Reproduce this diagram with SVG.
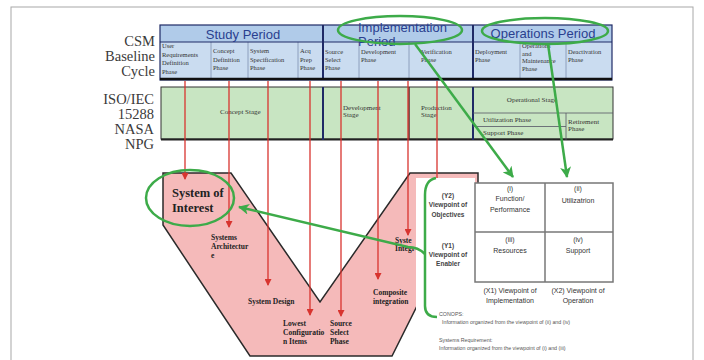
<svg xmlns="http://www.w3.org/2000/svg" width="704" height="360" viewBox="0 0 704 360">
<defs>
<marker id="ar" markerUnits="userSpaceOnUse" markerWidth="7" markerHeight="7" refX="6" refY="3.5" orient="auto"><path d="M0,0 L7,3.5 L0,7 z" fill="#d8342f"/></marker>
<marker id="ag" markerUnits="userSpaceOnUse" markerWidth="11" markerHeight="11" refX="10" refY="5.5" orient="auto"><path d="M0,0 L11,5.5 L0,11 L3,5.5 z" fill="#3dab49"/></marker>
</defs>
<style>
.serif{font-family:"Liberation Serif","Times New Roman",serif}
.sans{font-family:"Liberation Sans",Arial,sans-serif}
.lbl{font-size:14.5px;fill:#3a3a3a;text-anchor:end}
.ph{font-size:6.5px;fill:#333}
.hdr{font-size:13px;fill:#2a3f8f}
.bt{font-size:7px;fill:#333}
.vt{font-size:7.5px;font-weight:bold;fill:#222}
.vp{font-size:6.5px;font-weight:bold;fill:#444;text-anchor:middle}
.mx{font-size:7px;fill:#333;text-anchor:middle}
.note{font-size:5.3px;fill:#555}
.red{stroke:#d8342f;stroke-width:1.3;fill:none}
.grn{stroke:#3dab49;stroke-width:2.5;fill:none}
.thin{stroke:#7f8fb0;stroke-width:0.8}
.navy{stroke:#1f2a66;stroke-width:2}
</style>
<rect x="11" y="7" width="682" height="370" fill="#fff" stroke="#a8a8a8" stroke-width="1"/>

<g id="left-labels" class="serif lbl">
<text x="155" y="46">CSM</text>
<text x="155" y="61">Baseline</text>
<text x="155" y="76">Cycle</text>
<text x="154" y="104">ISO/IEC</text>
<text x="154" y="119">15288</text>
<text x="154" y="134">NASA</text>
<text x="154" y="149">NPG</text>
</g>

<g id="csm-table">
<rect x="160" y="25" width="452" height="17" fill="#b0cbe9"/>
<rect x="160" y="42" width="452" height="38" fill="#cadcf0"/>
<g class="thin">
<line x1="211" y1="42" x2="211" y2="80"/>
<line x1="248" y1="42" x2="248" y2="80"/>
<line x1="298" y1="42" x2="298" y2="80"/>
<line x1="359" y1="42" x2="359" y2="80"/>
<line x1="409" y1="42" x2="409" y2="80"/>
<line x1="520" y1="42" x2="520" y2="80"/>
<line x1="566" y1="42" x2="566" y2="80"/>
</g>
<rect x="160" y="25" width="452" height="55" fill="none" stroke="#1f2a66" stroke-width="1.2"/>
<line x1="160" y1="42" x2="612" y2="42" stroke="#1f2a66" stroke-width="1.2"/>
<line x1="323" y1="25" x2="323" y2="80" class="navy"/>
<line x1="473" y1="25" x2="473" y2="80" class="navy"/>
<line x1="160" y1="79" x2="612" y2="79" stroke="#111" stroke-width="2.5"/>
<g class="sans hdr">
<text x="243" y="39" text-anchor="middle">Study Period</text>
<text x="358" y="32">Implementation</text>
<text x="358" y="46">Period</text>
<text x="543" y="37.5" text-anchor="middle">Operations Period</text>
</g>
<g class="serif ph">
<text x="162" y="48">User</text><text x="162" y="56.5">Requirements</text><text x="162" y="65">Definition</text><text x="162" y="73.5">Phase</text>
<text x="213" y="53">Concept</text><text x="213" y="61.5">Definition</text><text x="213" y="70">Phase</text>
<text x="250" y="53">System</text><text x="250" y="61.5">Specification</text><text x="250" y="70">Phase</text>
<text x="300" y="53">Acq</text><text x="300" y="61.5">Prep</text><text x="300" y="70">Phase</text>
<text x="325" y="54">Source</text><text x="325" y="62">Select</text><text x="325" y="70">Phase</text>
<text x="361" y="54">Development</text><text x="361" y="62">Phase</text>
<text x="421" y="54">Verification</text><text x="421" y="62">Phase</text>
<text x="475" y="54">Deployment</text><text x="475" y="62">Phase</text>
<text x="522" y="48">Operations</text><text x="522" y="55.5">and</text><text x="522" y="63">Maintenance</text><text x="522" y="70.5">Phase</text>
<text x="568" y="54">Deactivation</text><text x="568" y="62">Phase</text>
</g>
</g>

<g id="iso-band">
<rect x="161" y="87" width="452" height="52" fill="#c8e5c2" stroke="#333" stroke-width="1"/>
<line x1="161" y1="139.5" x2="613" y2="139.5" stroke="#222" stroke-width="2.2"/>
<line x1="323" y1="87" x2="323" y2="140" class="navy"/>
<line x1="409" y1="87" x2="409" y2="140" stroke="#5a2a2a" stroke-width="1.5"/>
<line x1="473" y1="87" x2="473" y2="140" class="navy"/>
<line x1="473" y1="113" x2="613" y2="113" stroke="#556" stroke-width="0.8"/>
<line x1="473" y1="126.5" x2="566" y2="126.5" stroke="#556" stroke-width="0.8"/>
<line x1="566" y1="113" x2="566" y2="140" stroke="#556" stroke-width="0.8"/>
<g class="serif bt">
<text x="220" y="114">Concept Stage</text>
<text x="343" y="110">Development</text><text x="343" y="117">Stage</text>
<text x="421" y="110">Production</text><text x="421" y="117">Stage</text>
<text x="532" y="102" text-anchor="middle">Operational Stage</text>
<text x="483" y="122">Utilization Phase</text>
<text x="483" y="135">Support Phase</text>
<text x="568" y="124">Retirement</text><text x="568" y="131">Phase</text>
</g>
</g>

<g id="v-model">
<polygon points="163,173 231,173 320,302 410,173 478,173 478,184 392,356 250,356 163,225" fill="#f5baba" stroke="#2a2a2a" stroke-width="1.5"/>
<g class="serif">
<text x="172" y="197" font-size="12.5" font-weight="bold" fill="#222">System of</text>
<text x="172" y="212" font-size="12.5" font-weight="bold" fill="#222">Interest</text>
</g>
<g class="serif vt">
<text x="211" y="240">Systems</text><text x="211" y="249">Architectur</text><text x="211" y="258">e</text>
<text x="248" y="304">System Design</text>
<text x="283" y="326">Lowest</text><text x="283" y="335">Configuratio</text><text x="283" y="344">n Items</text>
<text x="330" y="326">Source</text><text x="330" y="335">Select</text><text x="330" y="344">Phase</text>
<text x="373" y="295">Composite</text><text x="373" y="304">integration</text>
<text x="395" y="243">Syste</text><text x="395" y="251">Integr</text>
</g>
</g>

<rect x="416" y="178" width="59" height="182" fill="#fff"/>

<g id="viewpoints" class="sans vp">
<text x="448" y="198">(Y2)</text><text x="448" y="207">Viewpoint of</text><text x="448" y="217">Objectives</text>
<text x="448" y="248">(Y1)</text><text x="448" y="257">Viewpoint of</text><text x="448" y="266">Enabler</text>
</g>

<g id="matrix">
<rect x="475" y="183" width="138" height="99" fill="#fff" stroke="#777" stroke-width="1.5"/>
<line x1="545" y1="183" x2="545" y2="282" stroke="#777" stroke-width="1.5"/>
<line x1="475" y1="232" x2="613" y2="232" stroke="#777" stroke-width="1.5"/>
<g class="sans mx">
<text x="510" y="191">(i)</text><text x="510" y="201">Function/</text><text x="510" y="212">Performance</text>
<text x="578" y="191">(ii)</text><text x="578" y="203">Utilizatrion</text>
<text x="510" y="242">(iii)</text><text x="510" y="253">Resources</text>
<text x="578" y="242">(iv)</text><text x="578" y="253">Support</text>
<text x="510" y="293">(X1) Viewpoint of</text><text x="510" y="303">Implementation</text>
<text x="578" y="293">(X2) Viewpoint of</text><text x="578" y="303">Operation</text>
</g>
</g>

<g id="notes" class="sans note">
<text x="439" y="316">CONOPS:</text>
<text x="442" y="324">Information organized from the viewpoint of (ii) and (iv)</text>
<text x="439" y="342">Systems Requirement:</text>
<text x="439" y="350">Information organized from the viewpoint of (i) and (iii)</text>
</g>

<g id="connectors">
<line x1="185" y1="81" x2="185" y2="179" class="red" marker-end="url(#ar)"/>
<line x1="229" y1="81" x2="229" y2="227" class="red" marker-end="url(#ar)"/>
<line x1="268" y1="81" x2="268" y2="285" class="red" marker-end="url(#ar)"/>
<line x1="310" y1="81" x2="310" y2="315" class="red" marker-end="url(#ar)"/>
<line x1="341" y1="81" x2="341" y2="316" class="red" marker-end="url(#ar)"/>
<line x1="378" y1="81" x2="378" y2="279" class="red" marker-end="url(#ar)"/>
<line x1="408" y1="81" x2="408" y2="235" class="red" marker-end="url(#ar)"/>
<line x1="437" y1="81" x2="437" y2="178" class="red"/>
<ellipse cx="400" cy="30" rx="62" ry="14" class="grn"/>
<ellipse cx="545" cy="31" rx="63" ry="13" class="grn"/>
<ellipse cx="190" cy="198" rx="44" ry="28" class="grn"/>
<path d="M415,44 L513,177" class="grn" marker-end="url(#ag)"/>
<path d="M548,44 L567,177" class="grn" marker-end="url(#ag)"/>
<path d="M436,178 Q425,180 425,195 L425,306 Q425,317 437,317" class="grn" stroke-width="2"/>
<path d="M425,254 Q418,247 408,247 L239,207" class="grn" marker-end="url(#ag)"/>
</g>
</svg>
